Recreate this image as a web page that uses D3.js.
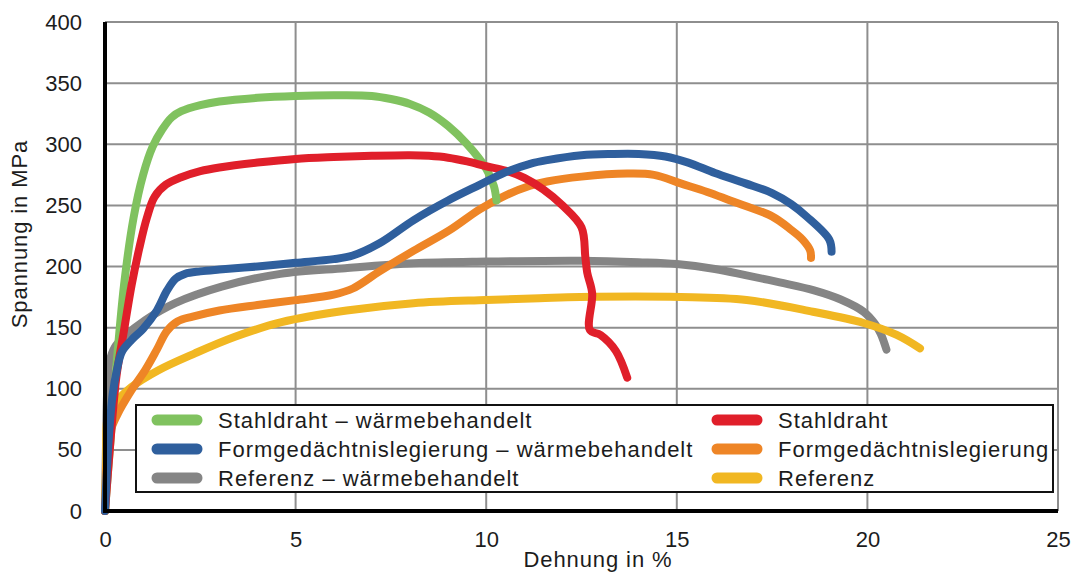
<!DOCTYPE html>
<html>
<head>
<meta charset="utf-8">
<script src="https://cdn.jsdelivr.net/npm/d3@7"></script>
<style>
  body { margin: 0; background: #fff; }
  text { font-family: "Liberation Sans", Arial, sans-serif; fill: #1c1c1c; }
</style>
</head>
<body>
<svg id="chart" width="1076" height="574"></svg>
<script>
// Zugversuch: Spannung über Dehnung, [Dehnung in %, Spannung in MPa]
const xTicks = [0, 5, 10, 15, 20, 25];
const yTicks = [0, 50, 100, 150, 200, 250, 300, 350, 400];

const stahldrahtWB = [[0,0],[0.1,40],[0.25,100],[0.5,185],[0.75,240],[1.0,275],[1.25,298],[1.5,312],[1.75,322],[2.0,327],[2.5,332],[3,335],[4,338],[5,339.5],[6,340],[7,339.5],[7.5,337],[8,333],[8.5,326],[9,315],[9.5,300],[10,280],[10.2,266],[10.27,254]];
const stahldraht = [[0,0],[0.15,60],[0.3,110],[0.5,148],[0.7,185],[0.9,215],[1.1,240],[1.3,257],[1.6,267],[2.0,273],[2.5,278],[3,281],[4,285],[5,288],[6,289.5],[7,290.5],[8,291],[8.5,290.5],[9,289],[9.5,286],[10,282],[10.5,278.5],[11,272.5],[11.5,263],[12,250],[12.5,232],[12.6,208],[12.65,195],[12.78,178],[12.72,148],[13.0,144],[13.4,131],[13.7,109]];
const formWB = [[0,0],[0.1,60],[0.2,95],[0.31,115],[0.44,130],[0.7,140],[1.0,149],[1.36,164],[1.62,180],[1.85,190],[2.1,194],[2.5,196],[3,197.5],[4,200],[5,203],[6,206],[6.5,209],[7.2,219],[8.1,238],[9,254],[9.84,267],[10.5,277],[11.15,284],[11.6,287],[12.5,291],[13.3,292],[14,292],[14.7,290],[15.3,285],[16,276.5],[16.8,268],[17.5,260],[18,251],[18.4,241],[19.0,222],[19.06,212]];
const form = [[0,0],[0.05,40],[0.13,64],[0.31,78],[0.7,99],[1.05,115],[1.36,132],[1.62,147],[1.9,155],[2.3,159],[3,164],[4,168.5],[5,172.5],[6,177],[6.5,182],[7.2,196],[8.1,213],[9.05,230],[9.84,247],[10.5,258],[11.15,266],[11.6,269.5],[12.5,273.5],[13.7,276],[14.4,275],[15.1,268],[15.8,261],[16.4,254],[17.5,241],[18,230],[18.3,222],[18.5,213],[18.52,207]];
const referenzWB = [[0,0],[0.03,60],[0.06,100],[0.12,122],[0.26,134],[0.52,143],[1.05,156],[1.84,170],[3.06,183.5],[4.6,194],[6.3,198.6],[8.1,202.6],[10,204],[12.5,204.7],[14,203.5],[15,202],[16,198],[16.8,193],[17.7,187],[18.6,180.5],[19.3,173],[19.9,163],[20.2,153],[20.35,145],[20.5,132]];
const referenz = [[0,0],[0.03,40],[0.06,75],[0.15,82],[0.26,88],[0.7,101.5],[1.39,115],[2.36,129],[3.41,142.5],[4.63,154.5],[6.34,164],[8.09,170],[10,172.6],[11.4,174],[12.46,175],[15.1,175],[16.83,172.6],[18.57,163],[19.9,153.8],[20.77,144],[21.38,133]];

const seriesLabels = [
  "Stahldraht – wärmebehandelt", "Stahldraht",
  "Formgedächtnislegierung – wärmebehandelt", "Formgedächtnislegierung",
  "Referenz – wärmebehandelt", "Referenz"
];
const seriesColors = ["#80c25f", "#e01f2a", "#2f5f9d", "#ee8526", "#858585", "#f1b722"];
const seriesData = [stahldrahtWB, stahldraht, formWB, form, referenzWB, referenz];
// drawing order, back to front
const drawOrder = [4, 5, 3, 0, 1, 2];

const svg = d3.select("#chart");
const m = { left: 105, right: 1058, top: 22, bottom: 511 };

const x = d3.scaleLinear().domain([0, 25]).range([m.left, m.right]);
const y = d3.scaleLinear().domain([0, 400]).range([m.bottom, m.top]);

// grid
const grid = svg.append("g").attr("stroke", "#8e8e8e").attr("stroke-width", 2);
grid.selectAll("line.h").data(yTicks.filter(d => d > 0)).join("line")
  .attr("x1", m.left).attr("x2", m.right)
  .attr("y1", d => y(d)).attr("y2", d => y(d));
grid.selectAll("line.v").data(xTicks.filter(d => d > 0)).join("line")
  .attr("y1", m.top).attr("y2", m.bottom)
  .attr("x1", d => x(d)).attr("x2", d => x(d));

// axes (labels only; thick black spines drawn separately)
const xAxis = svg.append("g").attr("transform", `translate(0,${m.bottom})`)
  .call(d3.axisBottom(x).tickValues(xTicks).tickSize(0).tickPadding(20));
const yAxis = svg.append("g").attr("transform", `translate(${m.left},0)`)
  .call(d3.axisLeft(y).tickValues(yTicks).tickSize(0).tickPadding(23));
[xAxis, yAxis].forEach(a => {
  a.select(".domain").remove();
  a.selectAll("text").attr("font-size", 22).attr("fill", "#1c1c1c")
    .attr("font-family", "Liberation Sans, Arial, sans-serif");
});

// curves
const line = d3.line()
  .x(d => x(d[0])).y(d => y(d[1]))
  .curve(d3.curveCatmullRom.alpha(0.5));
svg.append("g").selectAll("path").data(drawOrder).join("path")
  .attr("d", i => line(seriesData[i]))
  .attr("fill", "none")
  .attr("stroke", i => seriesColors[i])
  .attr("stroke-width", 8)
  .attr("stroke-linecap", "round")
  .attr("stroke-linejoin", "round");

// spines
svg.append("line").attr("x1", m.left).attr("x2", m.left).attr("y1", m.top).attr("y2", m.bottom + 2)
  .attr("stroke", "#000").attr("stroke-width", 4);
svg.append("line").attr("x1", m.left - 2).attr("x2", m.right).attr("y1", m.bottom).attr("y2", m.bottom)
  .attr("stroke", "#000").attr("stroke-width", 4);

// legend
const legend = svg.append("g");
legend.append("rect").attr("x", 136).attr("y", 405).attr("width", 917).attr("height", 87)
  .attr("fill", "#fff").attr("stroke", "#111").attr("stroke-width", 2);
const colX = [152, 712];
const rowY = [420, 449, 478];
seriesLabels.forEach((lab, i) => {
  const cx = colX[i % 2], cy = rowY[Math.floor(i / 2)];
  legend.append("line").attr("x1", cx + 5).attr("x2", cx + 45).attr("y1", cy).attr("y2", cy)
    .attr("stroke", seriesColors[i]).attr("stroke-width", 11).attr("stroke-linecap", "round");
  legend.append("text").attr("x", cx + 66).attr("y", cy + 8)
    .attr("font-size", 22).attr("letter-spacing", 1).text(lab);
});

// axis titles
svg.append("text").attr("x", 598).attr("y", 567).attr("text-anchor", "middle")
  .attr("font-size", 22).attr("letter-spacing", 0.9).text("Dehnung in %");
svg.append("text").attr("transform", "translate(27,234) rotate(-90)").attr("text-anchor", "middle")
  .attr("font-size", 22).attr("letter-spacing", 0.9).text("Spannung in MPa");
</script>
</body>
</html>
